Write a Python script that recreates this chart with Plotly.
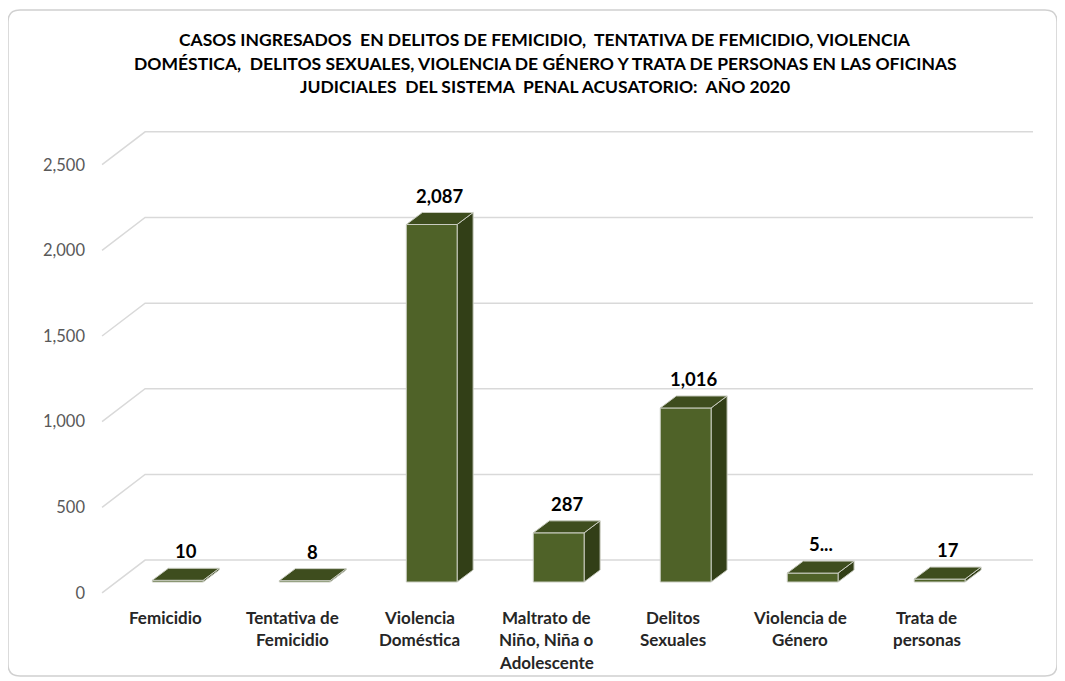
import plotly.graph_objects as go

# ---------------- data ----------------
categories = ["Femicidio", "Tentativa de<br>Femicidio", "Violencia<br>Doméstica",
              "Maltrato de<br>Niño, Niña o<br>Adolescente", "Delitos<br>Sexuales",
              "Violencia de<br>Género", "Trata de<br>personas"]
values = [10, 8, 2087, 287, 1016, 52, 17]
value_labels = ["10", "8", "2,087", "287", "1,016", "5...", "17"]
y_ticks = [0, 500, 1000, 1500, 2000, 2500]
y_tick_text = ["0", "500", "1,000", "1,500", "2,000", "2,500"]
title_lines = [
    "CASOS INGRESADOS  EN DELITOS DE FEMICIDIO,  TENTATIVA DE FEMICIDIO, VIOLENCIA",
    "DOMÉSTICA,  DELITOS SEXUALES, VIOLENCIA DE GÉNERO Y TRATA DE PERSONAS EN LAS OFICINAS",
    "JUDICIALES  DEL SISTEMA  PENAL ACUSATORIO:  AÑO 2020",
]

# ---------------- style / geometry ----------------
OFF = 8                      # browser body margin
W, H = 1065 - OFF, 681 - OFF
L, R, T, B = 90 - OFF, 1050 - OFF, 100 - OFF, 640 - OFF
X_RANGE = [-0.591, 6.969]
Y_RANGE = [-338.6, 2813.8]

FRONT = "#4F6228"
TOP = "#3E4D1E"
SIDE = "#323F17"
EDGE = "#C9CCC0"
GRID = "#D9D9D9"
FONT = "Lato"

bar_shift = 0.10      # front-face centre offset from category position
half_w = 0.20         # half width of bar front face (category units)
dx, dy = 0.126, 70    # 3D depth offsets (x units, value units)
floor_front, floor_back = -64, 128
grid_x = [-0.496, -0.157, 6.835]


def paper_x(px):
    return (px - OFF - L) / (R - L)


def paper_y(py):
    return (B - (py - OFF)) / (B - T)


fig = go.Figure()

# gridlines (floor front edge -> back wall)
for t in y_ticks:
    fig.add_trace(go.Scatter(
        x=grid_x, y=[t + floor_front, t + floor_back, t + floor_back],
        mode="lines", line=dict(color=GRID, width=1.5),
        hoverinfo="skip", showlegend=False))

# 3D bars
for i, v in enumerate(values):
    xc = i + bar_shift
    x0, x1 = xc - half_w, xc + half_w
    # side face
    fig.add_trace(go.Scatter(
        x=[x1, x1 + dx, x1 + dx, x1, x1], y=[0, dy, v + dy, v, 0],
        fill="toself", fillcolor=SIDE, mode="lines",
        line=dict(color=EDGE, width=1), hoverinfo="skip", showlegend=False))
    # front face
    fig.add_trace(go.Scatter(
        x=[x0, x1, x1, x0, x0], y=[0, 0, v, v, 0],
        fill="toself", fillcolor=FRONT, mode="lines",
        line=dict(color=EDGE, width=1), name=categories[i].replace("<br>", " "),
        hovertemplate="%{text}<extra></extra>", text=[f"{v:,}"] * 5,
        showlegend=False))
    # top face
    fig.add_trace(go.Scatter(
        x=[x0, x1, x1 + dx, x0 + dx, x0], y=[v, v, v + dy, v + dy, v],
        fill="toself", fillcolor=TOP, mode="lines",
        line=dict(color=EDGE, width=1), hoverinfo="skip", showlegend=False))

annotations = []
# data labels
for i, (v, lab) in enumerate(zip(values, value_labels)):
    annotations.append(dict(
        x=i + bar_shift + dx / 2, y=v + dy, xref="x", yref="y",
        text=f"<b>{lab}</b>", showarrow=False, yanchor="middle", yshift=17,
        font=dict(family=FONT, size=18.5, color="#000000")))

# category labels (one annotation per line for Excel-like line spacing)
for i, cat in enumerate(categories):
    for k, line in enumerate(cat.split("<br>")):
        annotations.append(dict(
            x=i, y=0, xref="x", yref="y", text=f"<b>{line}</b>",
            showarrow=False, yanchor="middle", yshift=-35 - 22.5 * k,
            font=dict(family=FONT, size=17, color="#262626")))

# title
for k, line in enumerate(title_lines):
    annotations.append(dict(
        x=paper_x(545), y=paper_y(40 + 23.5 * k), xref="paper", yref="paper",
        text=f"<b>{line}</b>", showarrow=False, yanchor="middle", xanchor="center",
        font=dict(family=FONT, size=17.5, color="#000000")))

# rounded outer border
x0p, x1p = paper_x(8), paper_x(1057)
y0p, y1p = paper_y(676), paper_y(10)
rx, ry = 12 / (R - L), 12 / (B - T)
border_path = (
    f"M {x0p + rx},{y1p} L {x1p - rx},{y1p} Q {x1p},{y1p} {x1p},{y1p - ry} "
    f"L {x1p},{y0p + ry} Q {x1p},{y0p} {x1p - rx},{y0p} "
    f"L {x0p + rx},{y0p} Q {x0p},{y0p} {x0p},{y0p + ry} "
    f"L {x0p},{y1p - ry} Q {x0p},{y1p} {x0p + rx},{y1p} Z")

fig.update_layout(
    width=W, height=H,
    margin=dict(l=L, r=W - R, t=T, b=H - B),
    paper_bgcolor="white", plot_bgcolor="white",
    annotations=annotations,
    shapes=[dict(type="path", path=border_path, xref="paper", yref="paper",
                 line=dict(color="#D0D0D0", width=1.5), layer="below")],
    xaxis=dict(range=X_RANGE, showgrid=False, zeroline=False, showline=False,
               showticklabels=False, fixedrange=True),
    yaxis=dict(range=Y_RANGE, showgrid=False, zeroline=False, showline=False,
               tickvals=[t + floor_front for t in y_ticks], ticktext=y_tick_text,
               tickfont=dict(family=FONT, size=16.5, color="#595959"),
               ticklabelstandoff=4, fixedrange=True),
    font=dict(family=FONT),
)

fig.write_html("out.html")
